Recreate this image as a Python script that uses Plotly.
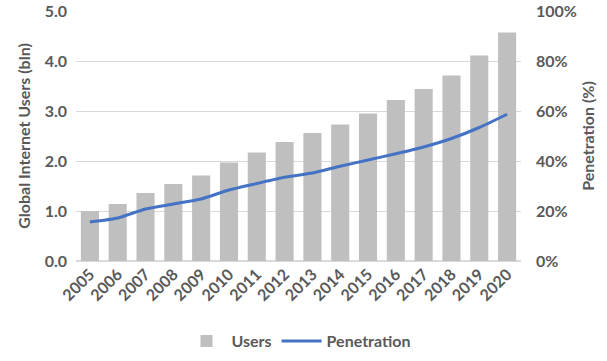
import plotly.graph_objects as go

years = ["2005", "2006", "2007", "2008", "2009", "2010", "2011", "2012",
         "2013", "2014", "2015", "2016", "2017", "2018", "2019", "2020"]
users = [1.00, 1.14, 1.36, 1.54, 1.71, 1.97, 2.17, 2.38,
         2.56, 2.73, 2.95, 3.22, 3.44, 3.71, 4.11, 4.57]
penetration = [15.6, 17.2, 20.8, 22.8, 24.8, 28.4, 31.0, 33.5,
               35.2, 37.9, 40.4, 42.9, 45.6, 49.0, 53.4, 58.7]

TXT = "#595959"
FONT = "Lato"
TF = dict(size=16, color=TXT, family=FONT, weight="bold")

fig = go.Figure()
fig.add_trace(go.Bar(x=years, y=users, name="Users", marker_color="#BFBFBF",
                     marker_line_width=0))
fig.add_trace(go.Scatter(x=years, y=penetration, name="Penetration", yaxis="y2",
                         mode="lines", line=dict(color="#4472C4", width=3, shape="spline",
                                                 smoothing=0.6)))

fig.update_layout(
    width=607, height=361,
    margin=dict(l=76, r=86, t=11, b=100, autoexpand=False),
    plot_bgcolor="white", paper_bgcolor="white",
    font=dict(family=FONT, color=TXT, size=16, weight="bold"),
    bargap=0.35,
    showlegend=True,
    legend=dict(orientation="h", x=0.5, xanchor="center", y=-0.32, yanchor="middle",
                font=dict(size=16, color=TXT, family=FONT, weight="bold"),
                itemwidth=40, tracegroupgap=0),
    xaxis=dict(tickangle=-45, showgrid=False, showline=False, ticks="", automargin=False,
               tickfont=TF),
    yaxis=dict(range=[0, 5], dtick=1, tickformat=".1f", showgrid=True,
               gridcolor="#D9D9D9", gridwidth=1, zeroline=True, zerolinecolor="#D9D9D9",
               ticks="", showline=False, automargin=False, ticklabelstandoff=8,
               ticklabeloverflow="allow",
               title=dict(text="Global Internet Users (bln)", standoff=10,
                          font=dict(size=16, color=TXT, family=FONT, weight="bold")),
               tickfont=TF),
    yaxis2=dict(range=[0, 100], dtick=20, ticksuffix="%", overlaying="y", side="right",
                showgrid=False, zeroline=False, showline=False, ticks="", automargin=False,
                ticklabelstandoff=14, ticklabeloverflow="allow",
                title=dict(text="Penetration (%)", standoff=6,
                           font=dict(size=16, color=TXT, family=FONT, weight="bold")),
                tickfont=TF),
)

fig.write_html("out.html", config={"displayModeBar": False},
               post_script="document.body.style.margin='0';document.body.style.overflow='hidden';")
